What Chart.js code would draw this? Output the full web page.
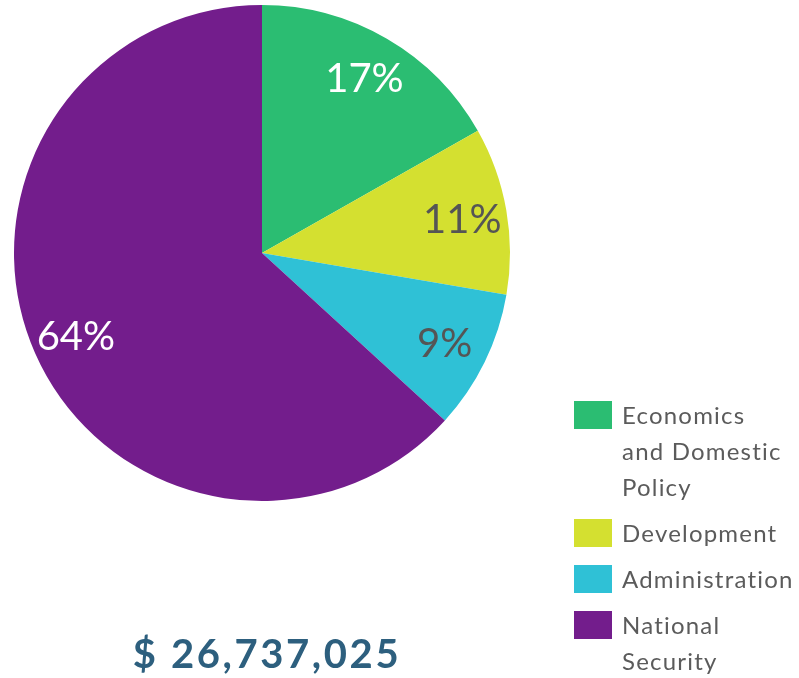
<!DOCTYPE html>
<html lang="en">
<head>
  <meta charset="UTF-8" />
  <title>Budget breakdown</title>
  <script src="https://cdn.jsdelivr.net/npm/chart.js"></script>
  <style>
    html, body { margin: 0; padding: 0; background: #fff; }
    #wrap { position: relative; width: 799px; height: 678px; }
    canvas { position: absolute; left: 0; top: 0; }
    #legend { position: absolute; left: 574px; top: 397px; list-style: none; margin: 0; padding: 0;
      font-family: Lato, "Open Sans", sans-serif; font-size: 24px; line-height: 36px; color: #5b5b5b;
      letter-spacing: 1.2px; white-space: nowrap; }
    #legend li { display: flex; margin-bottom: 10px; }
    #legend .box { width: 38px; height: 28px; margin-top: 4px; margin-right: 10px; flex: none; }
    #total { position: absolute; left: 2px; width: 530px; top: 629px; text-align: center;
      font-family: Lato, sans-serif; font-weight: bold; font-size: 40px; color: #2d5f7e; letter-spacing: 2.6px; }
  </style>
</head>
<body>
  <div id="wrap">
    <canvas id="pie" width="799" height="678"></canvas>
    <ul id="legend"></ul>
    <div id="total"></div>
  </div>

  <script>
    const categories = ['Economics\nand Domestic\nPolicy', 'Development', 'Administration', 'National\nSecurity'];
    const shares = [16.8, 10.9, 9.1, 63.2];
    const shareLabels = ['17%', '11%', '9%', '64%'];
    const colors = ['#2bbd72', '#d4e030', '#2fc1d6', '#731d8c'];
    const labelColors = ['#ffffff', '#555555', '#555555', '#ffffff'];
    const totalText = '$ 26,737,025';

    // percent labels drawn inside each slice
    const sliceLabels = {
      id: 'sliceLabels',
      afterDatasetsDraw(chart) {
        const c = chart.ctx;
        const arcs = chart.getDatasetMeta(0).data;
        c.save();
        c.font = '400 40px Lato, "Open Sans", sans-serif';
        c.textAlign = 'center';
        c.textBaseline = 'middle';
        arcs.forEach((arc, i) => {
          const mid = (arc.startAngle + arc.endAngle) / 2;
          const r = arc.outerRadius * 0.82;
          c.fillStyle = labelColors[i];
          c.fillText(shareLabels[i], arc.x + Math.cos(mid) * r, arc.y + Math.sin(mid) * r + 2);
        });
        c.restore();
      }
    };

    new Chart(document.getElementById('pie'), {
      type: 'pie',
      data: {
        labels: categories,
        datasets: [{ data: shares, backgroundColor: colors, borderWidth: 0 }]
      },
      options: {
        responsive: false,
        animation: false,
        layout: { padding: { left: 14, top: 5, right: 289, bottom: 177 } },
        plugins: { legend: { display: false }, tooltip: { enabled: false } }
      },
      plugins: [sliceLabels]
    });

    const legend = document.getElementById('legend');
    categories.forEach((name, i) => {
      const li = document.createElement('li');
      const box = document.createElement('span');
      box.className = 'box';
      box.style.background = colors[i];
      const txt = document.createElement('span');
      txt.innerHTML = name.split('\n').join('<br>');
      li.appendChild(box);
      li.appendChild(txt);
      legend.appendChild(li);
    });
    document.getElementById('total').textContent = totalText;
  </script>
</body>
</html>
